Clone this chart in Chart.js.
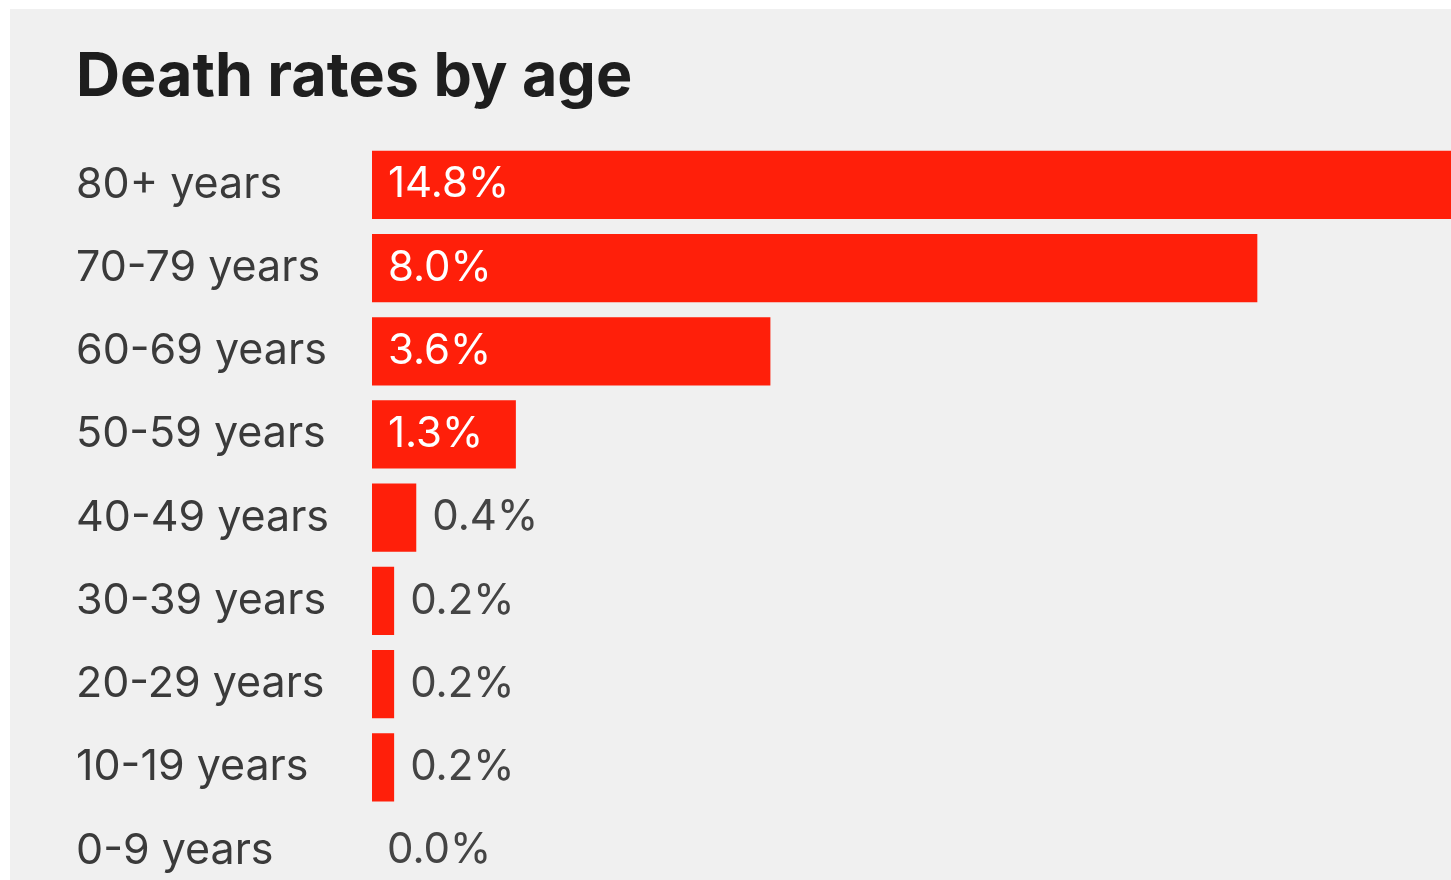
<!DOCTYPE html>
<html lang="en">
<head>
    <meta charset="UTF-8">
    <title>Death rates by age</title>
    <style>
        body {
            margin: 0;
            background-color: #fff;
            font-family: 'Inter', 'Noto Sans', sans-serif;
        }
        .panel {
            position: absolute;
            left: 10px;
            top: 9px;
            width: 1441px;
            height: 871px;
            background-color: #f0f0f0;
            overflow: hidden;
        }
        .chart-box {
            position: relative;
            width: 1441px;
            height: 909px;
        }
    </style>
</head>
<body>
    <div class="panel">
        <div class="chart-box">
            <canvas id="ageChart"></canvas>
        </div>
    </div>

    <script src="https://cdn.jsdelivr.net/npm/chart.js"></script>
    <script>
        // Data
        const ageGroups = ['80+ years', '70-79 years', '60-69 years', '50-59 years', '40-49 years',
                           '30-39 years', '20-29 years', '10-19 years', '0-9 years'];
        const deathRates = [14.8, 8.0, 3.6, 1.3, 0.4, 0.2, 0.2, 0.2, 0.0];
        const valueLabels = ['14.8%', '8.0%', '3.6%', '1.3%', '0.4%', '0.2%', '0.2%', '0.2%', '0.0%'];

        // draw the % text inside or next to each bar
        const barValuePlugin = {
            id: 'barValues',
            afterDatasetsDraw(chart) {
                const ctx = chart.ctx;
                const meta = chart.getDatasetMeta(0);
                ctx.save();
                ctx.font = '42px Inter';
                ctx.textBaseline = 'middle';
                ctx.textAlign = 'left';
                meta.data.forEach(function(bar, i) {
                    const v = deathRates[i];
                    let x;
                    if (v >= 1) {
                        ctx.fillStyle = '#ffffff';
                        x = bar.base + 16;
                    } else {
                        ctx.fillStyle = '#444444';
                        x = v > 0 ? bar.x + 16 : bar.base + 15;
                    }
                    ctx.fillText(valueLabels[i], x, bar.y);
                });
                ctx.restore();
            }
        };

        const ctx = document.getElementById('ageChart').getContext('2d');
        const ageChart = new Chart(ctx, {
            type: 'bar',
            data: {
                labels: ageGroups,
                datasets: [{
                    data: deathRates,
                    backgroundColor: '#ff1f0a',
                    borderWidth: 0,
                    categoryPercentage: 1.0,
                    barPercentage: 0.82
                }]
            },
            options: {
                indexAxis: 'y',
                responsive: true,
                maintainAspectRatio: false,
                animation: false,
                layout: {
                    padding: { left: 66, right: 0, top: 0, bottom: 19 }
                },
                plugins: {
                    legend: { display: false },
                    tooltip: { enabled: false },
                    title: {
                        display: true,
                        text: 'Death rates by age',
                        align: 'start',
                        color: '#1e1e1e',
                        font: { family: 'Inter', size: 61, weight: 'bold', lineHeight: 1.2 },
                        padding: { top: 32, bottom: 29 }
                    }
                },
                scales: {
                    x: {
                        display: false,
                        min: 0,
                        max: 9.75
                    },
                    y: {
                        border: { display: false },
                        grid: { display: false },
                        ticks: {
                            crossAlign: 'far',
                            color: '#3a3a3a',
                            font: { family: 'Inter', size: 43 },
                            padding: 0
                        },
                        afterFit: function(scale) {
                            scale.width = 362 - 66;
                        }
                    }
                }
            },
            plugins: [barValuePlugin]
        });
    </script>
</body>
</html>
